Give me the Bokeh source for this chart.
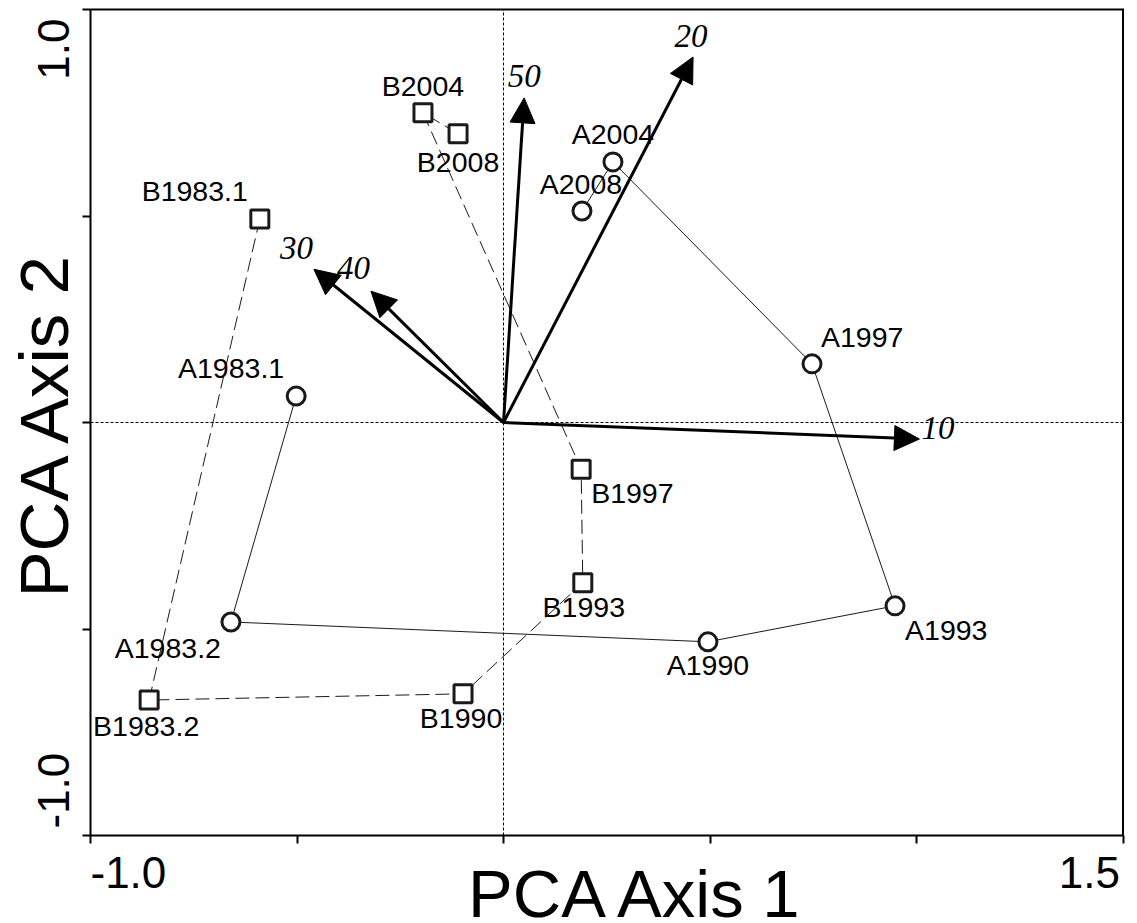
import math
from bokeh.plotting import figure
from bokeh.models import (Range1d, FixedTicker, ColumnDataSource, Arrow,
                          NormalHead, Label)
from bokeh.core.properties import value
from bokeh.embed import file_html
from bokeh.resources import INLINE

# ---------------- data ----------------
# Sites of series A (circles, solid trajectory)
a_names = ["A1983.1", "A1983.2", "A1990", "A1993", "A1997", "A2004", "A2008"]
a_x = [-0.502, -0.660, 0.495, 0.948, 0.747, 0.265, 0.190]
a_y = [0.064, -0.483, -0.531, -0.444, 0.142, 0.631, 0.512]

# Sites of series B (squares, dashed trajectory)
b_names = ["B1983.1", "B1983.2", "B1990", "B1993", "B1997", "B2004", "B2008"]
b_x = [-0.590, -0.858, -0.098, 0.192, 0.188, -0.195, -0.110]
b_y = [0.493, -0.672, -0.657, -0.388, -0.113, 0.750, 0.699]

# Variable vectors
vec_names = ["10", "20", "50", "30", "40"]
vec_x = [1.007, 0.459, 0.050, -0.459, -0.321]
vec_y = [-0.040, 0.885, 0.786, 0.371, 0.318]

x_ticks = [-1.0, -0.5, 0.0, 0.5, 1.0, 1.5]
y_ticks = [-1.0, -0.5, 0.0, 0.5, 1.0]
x_tick_labels = ["-1.0", "1.5"]
y_tick_labels = ["-1.0", "1.0"]
x_title = "PCA Axis 1"
y_title = "PCA Axis 2"

# ---------------- layout (pixels) ----------------
W, H = 1137, 923
B_TOP, B_RIGHT = 4, 4                       # side borders (axes panels)
AX_L, AX_R, AX_T, AX_B = 90.0, 1122.5, 9.0, 835.0   # axis box in the picture
BASE_FIX = 0.33                             # baseline correction (em)

a_lab_align = ["right", "right", "center", "left", "left", "center", "center"]
a_lab_dx = [-12, -10, 0, 10, 9, 0, -1]
a_lab_dy = [-19, 35, 33, 34, -17, -18, -18]
b_lab_align = ["right", "center", "center", "center", "left", "center", "center"]
b_lab_dx = [-12, -3, -2, 1, 10, 0, 0]
b_lab_dy = [-18, 35, 34, 34, 33, -17, 38]
v_lab_align = ["left", "center", "center", "right", "right"]
v_lab_dx = [2, -2, 0, -1, -1]
v_lab_dy = [0, -10, -11, -10, -12]

SANS = "Liberation Sans"
SERIF = "Liberation Serif"
INK = "#1a1a1a"

sx = (AX_R - AX_L) / (x_ticks[-1] - x_ticks[0])
sy = (AX_B - AX_T) / (y_ticks[-1] - y_ticks[0])
x_range = Range1d(x_ticks[0] - AX_L / sx, x_ticks[-1] + (W - B_RIGHT - AX_R) / sx)
y_range = Range1d(y_ticks[0] - (H - AX_B) / sy, y_ticks[-1] + (AX_T - B_TOP) / sy)

p = figure(width=W, height=H, output_backend="svg", toolbar_location=None,
           x_range=x_range, y_range=y_range,
           x_axis_location="above", y_axis_location="right",
           min_border_left=0, min_border_right=B_RIGHT,
           min_border_top=B_TOP, min_border_bottom=0)
p.background_fill_color = "white"
p.border_fill_color = "white"
p.grid.visible = False
p.outline_line_color = None

# axes drawn at the box edges (x axis at y=-1, y axis at x=-1)
for ax, tk, loc in ((p.xaxis[0], x_ticks, y_ticks[0]), (p.yaxis[0], y_ticks, x_ticks[0])):
    ax.ticker = FixedTicker(ticks=[], minor_ticks=tk)
    ax.fixed_location = loc
    ax.bounds = (tk[0], tk[-1])
    ax.major_label_standoff = 0
    ax.axis_line_width = 2
    ax.axis_line_color = "black"
    ax.major_tick_line_color = None
    ax.major_tick_out = 0
    ax.major_tick_in = 0
    ax.minor_tick_line_color = "black"
    ax.minor_tick_line_width = 2
    ax.minor_tick_out = 0
    ax.minor_tick_in = 8

# top and right edges of the box
p.line([x_ticks[0], x_ticks[-1], x_ticks[-1]], [y_ticks[-1], y_ticks[-1], y_ticks[0]],
       line_color="black", line_width=2, line_join="miter")

# zero lines
p.segment(x0=[x_ticks[0], 0.0], y0=[0.0, y_ticks[0]],
          x1=[x_ticks[-1], 0.0], y1=[0.0, y_ticks[-1]],
          line_color="black", line_width=1, line_dash="3 2")

# trajectories
p.line(a_x, a_y, line_color=INK, line_width=1)
p.line(b_x, b_y, line_color=INK, line_width=1, line_dash="14 6")

# vectors
vsrc = ColumnDataSource(dict(x0=[0.0] * len(vec_x), y0=[0.0] * len(vec_y),
                             x1=vec_x, y1=vec_y))
p.add_layout(Arrow(end=NormalHead(size=25, fill_color="black", line_color="black",
                                  line_width=1),
                   x_start="x0", y_start="y0", x_end="x1", y_end="y1",
                   source=vsrc, line_width=3, line_color="black"))

# markers
p.scatter(a_x, a_y, marker="circle", size=18, line_width=3,
          line_color=INK, fill_color="white")
p.scatter(b_x, b_y, marker="square", size=18, line_width=3,
          line_color=INK, fill_color="white")


def add_labels(names, xs, ys, aligns, dxs, dys, font, size, style, rotated=False):
    shift = BASE_FIX * size
    for al in ("left", "center", "right"):
        idx = [i for i, a in enumerate(aligns) if a == al]
        if not idx:
            continue
        if rotated:
            dx = [dxs[i] - shift for i in idx]
            dy = [dys[i] for i in idx]
        else:
            dx = [dxs[i] for i in idx]
            dy = [dys[i] - shift for i in idx]
        src = ColumnDataSource(dict(
            x=[xs[i] for i in idx], y=[ys[i] for i in idx],
            t=[names[i] for i in idx], dx=dx, dy=dy))
        p.text(x="x", y="y", text="t", x_offset="dx", y_offset="dy",
               source=src, text_align=al, text_baseline="alphabetic",
               text_font=value(font), text_font_size=f"{size}px",
               angle=(math.pi / 2 if rotated else 0.0),
               text_font_style=style, text_color="black")


add_labels(a_names, a_x, a_y, a_lab_align, a_lab_dx, a_lab_dy, SANS, 28.5, "normal")
add_labels(b_names, b_x, b_y, b_lab_align, b_lab_dx, b_lab_dy, SANS, 28.5, "normal")
add_labels(vec_names, vec_x, vec_y, v_lab_align, v_lab_dx, v_lab_dy, SERIF, 33, "italic")

# tick labels (only the two ends of each axis are labelled)
add_labels(x_tick_labels, [x_ticks[0], x_ticks[-1]], [y_ticks[0], y_ticks[0]],
           ["left", "right"], [0, -3], [52, 52], SANS, 44, "normal")
add_labels(y_tick_labels, [x_ticks[0], x_ticks[0]], [y_ticks[0], y_ticks[-1]],
           ["left", "right"], [-22, -22], [-7, 9], SANS, 44, "normal", rotated=True)

# axis titles
XT_FS, YT_FS = 67, 69
p.add_layout(Label(x=637, x_units="screen", y=H - 915 + BASE_FIX * XT_FS,
                   y_units="screen", text=x_title,
                   text_align="center", text_baseline="alphabetic",
                   text_font=SANS, text_font_size=f"{XT_FS}px", text_color="black"))
p.add_layout(Label(x=67 - BASE_FIX * YT_FS, x_units="screen", y=H - 422.5,
                   y_units="screen", text=y_title, angle=math.pi / 2,
                   text_align="center", text_baseline="alphabetic",
                   text_font=SANS, text_font_size=f"{YT_FS}px", text_color="black"))

open("out.html", "w").write(file_html(p, INLINE))
